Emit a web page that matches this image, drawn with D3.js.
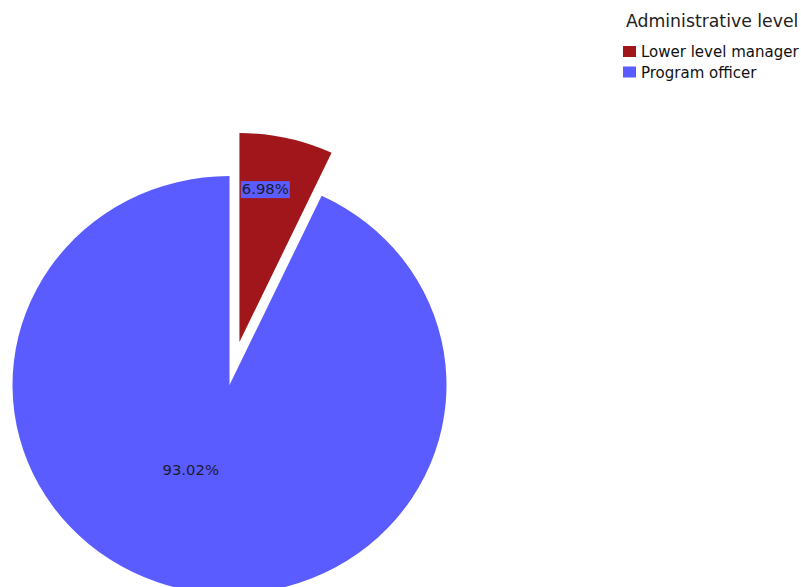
<html>
<head>
  <meta charset="utf-8">
  <style type="text/css">
    body { margin: 0; background: #ffffff; }
    text { font-family: "DejaVu Sans", Verdana, sans-serif; }
  </style>
</head>
<body>
<script src="https://d3js.org/d3.v7.min.js"></script>
<script>
  var width = 801, height = 587;

  // data
  var categories = ["Lower level manager", "Program officer"];
  var values = [6.98, 93.02];
  var labels = ["6.98%", "93.02%"];
  var colors = ["#a0161a", "#5b5cff"];
  var legendTitle = "Administrative level";

  var cx = 229.5, cy = 385;
  var ry = 209, rx = 217;   // pie is drawn a little wider than tall
  var explode = [44, 0];

  var svg = d3.select("body").append("svg")
    .attr("width", width)
    .attr("height", height);

  var pie = d3.pie().sort(null).value(function (d) { return d; });
  var arcs = pie(values);

  var arc = d3.arc().innerRadius(0).outerRadius(ry);

  var g = svg.append("g")
    .attr("transform", "translate(" + cx + "," + cy + ") scale(" + (rx / ry) + ",1)");

  g.selectAll("path")
    .data(arcs)
    .enter()
    .append("path")
    .attr("d", arc)
    .attr("fill", function (d, i) { return colors[i]; })
    .attr("transform", function (d, i) {
      var a = (d.startAngle + d.endAngle) / 2;
      return "translate(" + (Math.sin(a) * explode[i]) + "," + (-Math.cos(a) * explode[i]) + ")";
    });

  // labels
  var labelPos = [
    { r: 150, dx: -8, dy: -7 },
    { r: 92, dx: -18, dy: -5 }
  ];
  var lg = svg.append("g").attr("transform", "translate(" + cx + "," + cy + ")");
  arcs.forEach(function (d, i) {
    var a = (d.startAngle + d.endAngle) / 2;
    var dist = labelPos[i].r + explode[i];
    var x = Math.sin(a) * dist * (rx / ry) + labelPos[i].dx;
    var y = -Math.cos(a) * dist + labelPos[i].dy;
    var t = lg.append("text")
      .attr("x", x)
      .attr("y", y)
      .attr("text-anchor", "middle")
      .attr("dominant-baseline", "central")
      .attr("font-size", 14.8)
      .attr("fill", "#1c1c30")
      .text(labels[i]);
    if (i === 0) {
      var b = t.node().getBBox();
      lg.insert("rect", "text")
        .attr("x", b.x - 1)
        .attr("y", b.y + 1)
        .attr("width", b.width + 2)
        .attr("height", b.height)
        .attr("fill", colors[1]);
    }
  });

  // legend
  var legend = svg.append("g").attr("transform", "translate(623,0)");
  legend.append("text")
    .attr("x", 3)
    .attr("y", 27)
    .attr("font-size", 17.3)
    .attr("fill", "#222")
    .text(legendTitle);

  var item = legend.selectAll("g.item")
    .data(categories)
    .enter()
    .append("g")
    .attr("class", "item")
    .attr("transform", function (d, i) { return "translate(0," + (46 + i * 20.5) + ")"; });
  item.append("rect")
    .attr("width", 13)
    .attr("height", 11)
    .attr("fill", function (d, i) { return colors[i]; });
  item.append("text")
    .attr("x", 18)
    .attr("y", 11)
    .attr("font-size", 15)
    .attr("fill", "#111")
    .text(function (d) { return d; });
</script>
</body>
</html>
